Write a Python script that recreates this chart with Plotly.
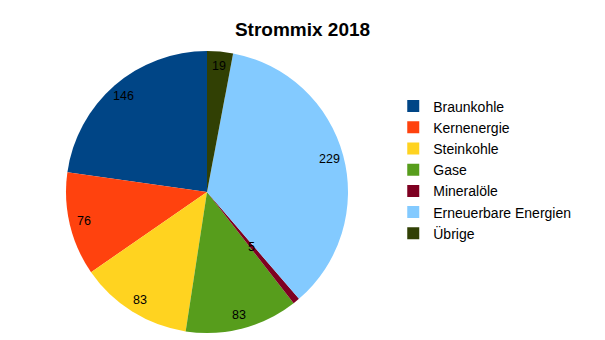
import math
import plotly.graph_objects as go

categories = ["Braunkohle", "Kernenergie", "Steinkohle", "Gase", "Mineralöle",
              "Erneuerbare Energien", "Übrige"]
values = [146, 76, 83, 83, 5, 229, 19]
colors = ["#004586", "#ff420e", "#ffd320", "#579d1c", "#7e0021", "#83caff", "#314004"]
title_text = "Strommix 2018"

W, H = 605, 340
cx, cy, r = 207, 192, 141
total = sum(values)

# plotly puts the first slice clockwise of `rotation` when going counterclockwise,
# so rotate back by the first slice's angle to make it start at 12 o'clock.
fig = go.Figure(go.Pie(
    labels=categories,
    values=values,
    sort=False,
    direction="counterclockwise",
    rotation=-360 * values[0] / total,
    marker=dict(colors=colors, line=dict(width=0)),
    textinfo="none",
    domain=dict(x=[(cx - r) / W, (cx + r) / W], y=[(H - cy - r) / H, (H - cy + r) / H]),
    hoverinfo="label+value",
))

# value labels placed inside each slice, near the outer rim (small slices nearer the centre)
cum = 0
for v in values:
    theta = math.radians(90 + 360 * (cum + v / 2) / total)
    cum += v
    f = 0.9 if v / total > 0.02 else 0.5
    px = cx + f * r * math.cos(theta)
    py = cy - f * r * math.sin(theta)
    fig.add_annotation(x=px / W, y=1 - py / H, xref="paper", yref="paper",
                       text=str(v), showarrow=False, xanchor="center", yanchor="middle",
                       font=dict(family="Liberation Sans", size=12.5, color="black"))

fig.update_layout(
    width=W, height=H,
    margin=dict(l=0, r=0, t=0, b=0),
    paper_bgcolor="white",
    plot_bgcolor="white",
    title=dict(text="<b>" + title_text + "</b>", x=0.5, xanchor="center",
               y=1 - 29 / H, yanchor="middle",
               font=dict(family="Liberation Sans", size=19, color="black")),
    legend=dict(x=0.65, xanchor="left", y=0.5, yanchor="middle",
                font=dict(family="Liberation Sans", size=14, color="black"),
                itemwidth=30, tracegroupgap=0),
    showlegend=True,
)

fig.write_html("out.html")
